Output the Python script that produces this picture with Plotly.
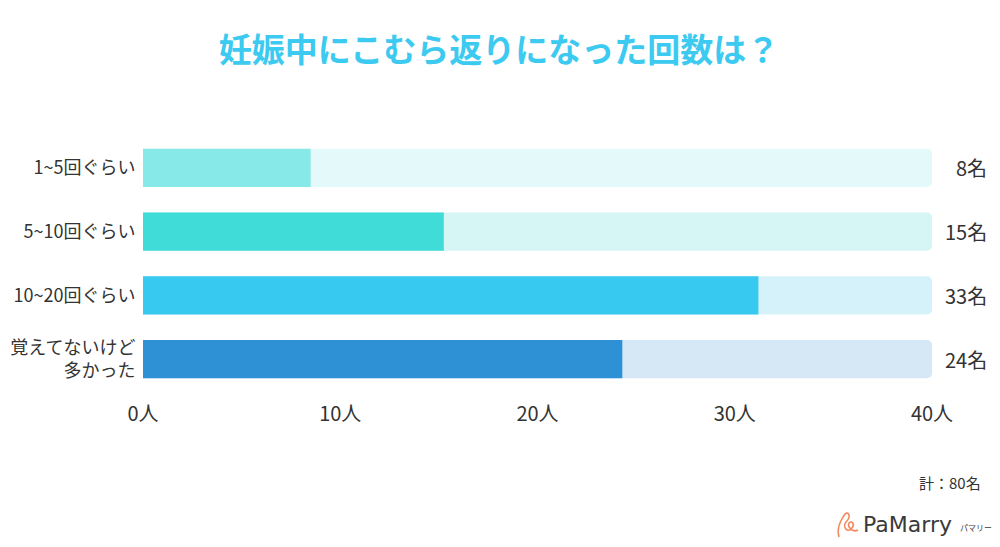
import plotly.graph_objects as go

# ---- data ----
categories = ["1~5回ぐらい", "5~10回ぐらい", "10~20回ぐらい", "覚えてないけど<br>多かった"]
counts = [8, 15, 33, 24]                     # labelled values (名)
bar_lengths = [8.5, 15.25, 31.2, 24.3]        # bar lengths as drawn in the picture
axis_max = 40
tick_vals = [0, 10, 20, 30, 40]
tick_text = ["0人", "10人", "20人", "30人", "40人"]
title_text = "妊娠中にこむら返りになった回数は？"
total_text = "計：80名"

bar_colors = ["#88EAE8", "#40DCD8", "#38C9F0", "#2E91D6"]
bg_colors = ["#E4F9F9", "#D6F6F5", "#D5F1FA", "#D6E8F5"]

FONT = "Noto Sans CJK JP"
TXT = "#333333"

# page body has an 8px margin; layout is expressed in reference pixels
OFF = 8
W, H = 1000, 547
PL, PR, PT, PB = 143, 932, 136, 391   # plot box in reference pixels


def px(xr):
    return (xr - PL) / (PR - PL)


def py(yr):
    return (PB - yr) / (PB - PT)


fig = go.Figure()
fig.add_trace(go.Bar(
    y=categories, x=[axis_max] * len(categories), orientation="h",
    marker=dict(color=bg_colors, cornerradius=5, line=dict(width=0)),
    width=0.6, hoverinfo="skip", showlegend=False,
))
fig.add_trace(go.Bar(
    y=categories, x=bar_lengths, orientation="h",
    marker=dict(color=bar_colors, cornerradius=5, line=dict(width=0)),
    width=0.6, showlegend=False,
    customdata=counts, hovertemplate="%{y}: %{customdata}名<extra></extra>",
))

for cat, c in zip(categories, counts):
    fig.add_annotation(
        x=axis_max, y=cat, xref="x", yref="y", text=f"{c}名",
        showarrow=False, xanchor="right", xshift=57,
        font=dict(family=FONT, size=20, color=TXT),
    )

fig.update_layout(
    width=W, height=H,
    paper_bgcolor="white", plot_bgcolor="white",
    margin=dict(l=PL - OFF, r=W - (PR - OFF), t=PT - OFF, b=H - (PB - OFF),
                autoexpand=False),
    barmode="overlay",
    title=dict(
        text=f"<b>{title_text}</b>", x=(499 - OFF) / W, xanchor="center",
        y=1 - (50 - OFF) / H, yanchor="middle",
        font=dict(family=FONT, size=33, color="#3DCAF0"),
    ),
    xaxis=dict(
        range=[0, axis_max], tickvals=tick_vals, ticktext=tick_text,
        showgrid=False, zeroline=False, showline=False, automargin=False,
        ticks="outside", ticklen=5, tickcolor="rgba(0,0,0,0)",
        tickfont=dict(family=FONT, size=20, color=TXT), fixedrange=True,
    ),
    yaxis=dict(
        autorange="reversed", showgrid=False, zeroline=False, showline=False,
        automargin=False,
        ticks="outside", ticklen=3, tickcolor="rgba(0,0,0,0)",
        tickfont=dict(family=FONT, size=18, color=TXT), fixedrange=True,
    ),
    font=dict(family=FONT, color=TXT),
)

fig.add_annotation(
    xref="paper", yref="paper", x=px(983), y=py(482),
    xanchor="right", yanchor="middle", showarrow=False, text=total_text,
    font=dict(family=FONT, size=15, color=TXT),
)

# logo
fig.add_annotation(
    xref="paper", yref="paper", x=px(861), y=py(524),
    xanchor="left", yanchor="middle", showarrow=False,
    text="PaMarry", font=dict(family="DejaVu Sans", size=22, color="#3a3a3a"),
)
fig.add_annotation(
    xref="paper", yref="paper", x=px(958), y=py(527),
    xanchor="left", yanchor="middle", showarrow=False,
    text="パマリー", font=dict(family=FONT, size=8, color="#3a3a3a"),
)
logo_path = (
    f"M {px(839)},{py(537)} C {px(836)},{py(528)} {px(842)},{py(518)} {px(845)},{py(514)} "
    f"C {px(848)},{py(511)} {px(852)},{py(516)} {px(846)},{py(522)} "
    f"C {px(842)},{py(527)} {px(848)},{py(534)} {px(852)},{py(528)} "
    f"C {px(855)},{py(524)} {px(852)},{py(520)} {px(849)},{py(523)} "
    f"C {px(847)},{py(527)} {px(853)},{py(533)} {px(858)},{py(530)}"
)
fig.add_shape(type="path", xref="paper", yref="paper", path=logo_path,
              line=dict(color="#F4895F", width=1.6))

fig.write_html("out.html")
